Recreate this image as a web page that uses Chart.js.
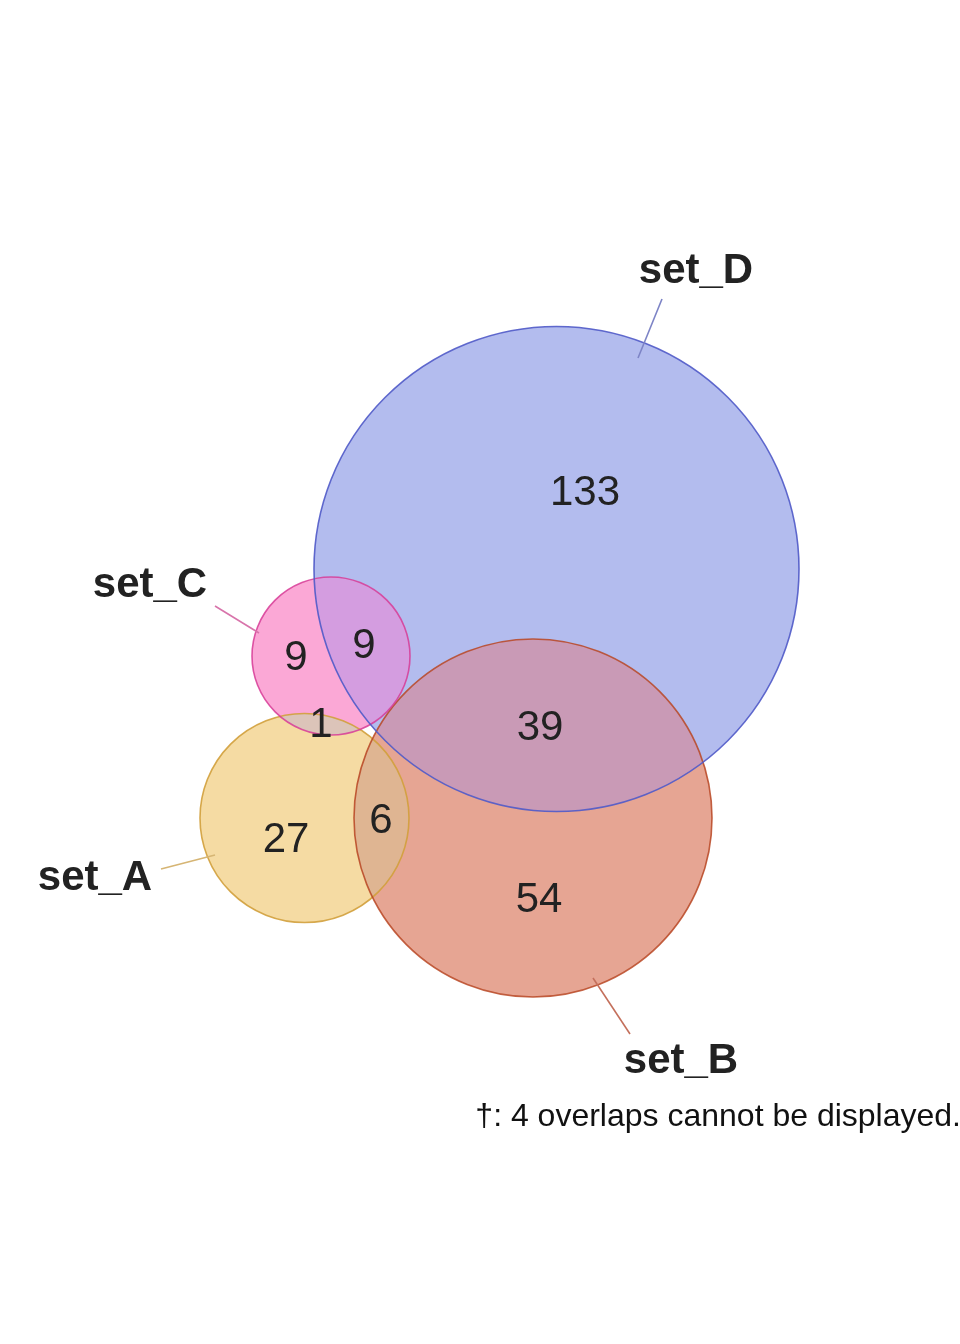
<!DOCTYPE html>
<html>
<head>
<meta charset="utf-8">
<script src="https://cdn.jsdelivr.net/npm/chart.js@4.4.1/dist/chart.umd.min.js"></script>
<style>
  html, body { margin: 0; padding: 0; background: #fff; }
  #wrap { width: 960px; height: 1344px; }
</style>
</head>
<body>
<div id="wrap"><canvas id="venn" width="960" height="1344"></canvas></div>
<script>
// sets and fitted circles (plot units, y grows downward)
const setNames = ['set_A', 'set_B', 'set_C', 'set_D'];
const circleX = [304.5, 533, 331, 556.5];
const circleY = [818, 818, 656, 569];
const circleR = [104.5, 179, 79, 242.5];

// region counts and where they sit
const regionCounts = [133, 9, 9, 1, 39, 6, 27, 54];
const regionX = [585, 296, 364, 321, 540, 381, 286, 539];
const regionY = [493, 658, 646, 725, 728, 821, 840, 900];

// set label anchors and leader lines
const labelX = [95, 681, 150, 696];
const labelY = [878, 1061, 585, 271];
const leaderFrom = [[161, 869], [630, 1034], [215, 606], [662, 299]];
const leaderTo = [[215, 855], [593, 978], [259, 633], [638, 358]];

const footnote = '\u2020: 4 overlaps cannot be displayed.';

const fills = ['#f5dba3', '#e6a593', '#fba8d6', '#b3bcee'];
const strokes = ['rgba(210,160,60,0.9)', 'rgba(185,70,35,0.85)', 'rgba(215,60,150,0.85)', 'rgba(80,90,200,0.9)'];
const leaderColors = ['#d6b574', '#c4705c', '#d874ab', '#7d84c6'];

// pairwise overlap colours [setIndex, setIndex, colour]
const overlaps = [
    [1, 3, '#c99ab6'],
    [2, 3, '#d49de0'],
    [0, 1, '#dfb592'],
    [0, 2, '#dcc4b9']
];

function radiusPx(chart, i) {
    const sx = chart.scales.x;
    return Math.abs(sx.getPixelForValue(circleX[i] + circleR[i]) - sx.getPixelForValue(circleX[i]));
}

function circlePath(chart, ctx, i) {
    const px = chart.scales.x.getPixelForValue(circleX[i]);
    const py = chart.scales.y.getPixelForValue(circleY[i]);
    ctx.beginPath();
    ctx.arc(px, py, radiusPx(chart, i), 0, Math.PI * 2);
}

const FILL_INDEX = 5;

const overlapPlugin = {
    id: 'overlapPlugin',
    afterDatasetDraw(chart, args) {
        if (args.index !== FILL_INDEX) return;
        const ctx = chart.ctx;
        overlaps.forEach(([a, b, color]) => {
            ctx.save();
            circlePath(chart, ctx, a);
            ctx.clip();
            circlePath(chart, ctx, b);
            ctx.clip();
            ctx.fillStyle = color;
            ctx.fillRect(0, 0, chart.width, chart.height);
            ctx.restore();
        });
    }
};

const textPlugin = {
    id: 'textPlugin',
    afterDatasetsDraw(chart) {
        const ctx = chart.ctx;
        const sx = chart.scales.x;
        const sy = chart.scales.y;
        ctx.save();
        ctx.fillStyle = '#222222';
        ctx.textAlign = 'center';
        ctx.textBaseline = 'middle';

        ctx.font = '42px "Liberation Sans", Arial, sans-serif';
        regionCounts.forEach((n, i) => {
            ctx.fillText(String(n), sx.getPixelForValue(regionX[i]), sy.getPixelForValue(regionY[i]));
        });

        ctx.font = 'bold 42px "Liberation Sans", Arial, sans-serif';
        setNames.forEach((name, i) => {
            ctx.fillText(name, sx.getPixelForValue(labelX[i]), sy.getPixelForValue(labelY[i]));
        });

        ctx.font = '32px "Liberation Sans", Arial, sans-serif';
        ctx.textAlign = 'right';
        ctx.fillStyle = '#111111';
        ctx.fillText(footnote, sx.getPixelForValue(961), sy.getPixelForValue(1117));
        ctx.restore();
    }
};

// leader lines first so they draw on top
const leaderSets = setNames.map((name, i) => ({
    type: 'line',
    label: name + ' leader',
    data: [
        { x: leaderFrom[i][0], y: leaderFrom[i][1] },
        { x: leaderTo[i][0], y: leaderTo[i][1] }
    ],
    borderColor: leaderColors[i],
    borderWidth: 1.6,
    pointRadius: 0,
    fill: false
}));

const chart = new Chart(document.getElementById('venn'), {
    type: 'bubble',
    data: {
        datasets: [
            ...leaderSets,
            {
                label: 'outlines',
                data: [],
                backgroundColor: 'rgba(0,0,0,0)',
                borderColor: strokes,
                borderWidth: 1.6,
                clip: false
            },
            {
                label: 'fills',
                data: [],
                backgroundColor: fills,
                borderWidth: 0,
                clip: false
            }
        ]
    },
    options: {
        responsive: false,
        devicePixelRatio: 1,
        animation: false,
        events: [],
        layout: { padding: 0, autoPadding: false },
        plugins: {
            legend: { display: false },
            tooltip: { enabled: false }
        },
        scales: {
            x: { type: 'linear', min: 0, max: 960, display: false },
            y: { type: 'linear', min: 0, max: 1344, reverse: true, display: false }
        }
    },
    plugins: [overlapPlugin, textPlugin]
});

// bubble radius is in pixels, so convert the circle sizes once the scales are laid out
const circlePoints = () => circleX.map((x, i) => ({ x: x, y: circleY[i], r: radiusPx(chart, i) }));
chart.data.datasets[4].data = circlePoints();
chart.data.datasets[5].data = circlePoints();
chart.update();
</script>
</body>
</html>
